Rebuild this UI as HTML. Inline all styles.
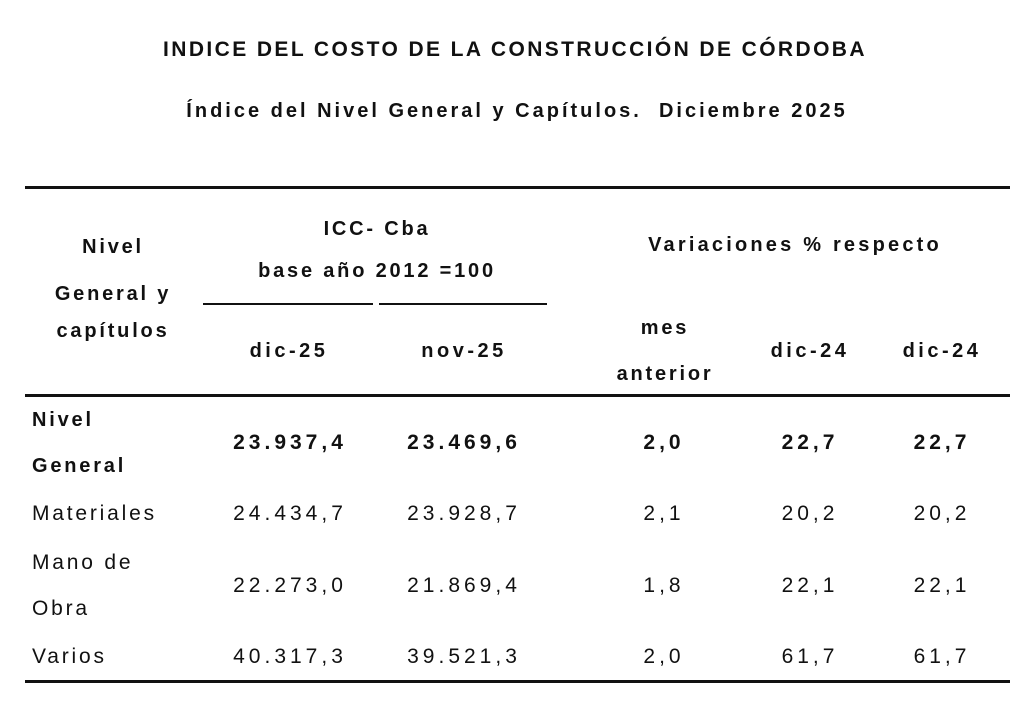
<!DOCTYPE html>
<html><head><meta charset="utf-8"><style>
body{margin:0;width:1025px;height:720px;background:#fff;font-family:"Liberation Sans",sans-serif;color:#111;position:relative;overflow:hidden;letter-spacing:2.8px}
.t{position:absolute;white-space:nowrap}
.c{transform:translateX(-50%);text-align:center}
.b{font-weight:bold}
.r{position:absolute;background:#111}
.v{font-size:21px;letter-spacing:4px}
.l{font-size:21px;letter-spacing:2.8px}
</style></head><body>
<div class="t c b" style="left:515px;top:38px;font-size:21px;letter-spacing:2.4px">INDICE DEL COSTO DE LA CONSTRUCCIÓN DE CÓRDOBA</div>
<div class="t c b" style="left:517px;top:100px;font-size:20px;letter-spacing:3px">Índice del Nivel General y Capítulos.&nbsp; Diciembre 2025</div>
<div class="r" style="left:25px;top:186px;width:985px;height:3px"></div>
<div class="t c b" style="left:113px;top:224px;font-size:20px;line-height:47px">Nivel<br>General y</div>
<div class="t c b" style="left:113px;top:320px;font-size:20px">capítulos</div>
<div class="t c b" style="left:377px;top:208px;font-size:20px;line-height:42px">ICC- Cba<br>base año 2012 =100</div>
<div class="r" style="left:203px;top:303px;width:170px;height:2px"></div>
<div class="r" style="left:379px;top:303px;width:168px;height:2px"></div>
<div class="t c b" style="left:795px;top:234px;font-size:20px;letter-spacing:3.2px">Variaciones % respecto</div>
<div class="t c b" style="left:289px;top:340px;font-size:20px;letter-spacing:3.5px">dic-25</div>
<div class="t c b" style="left:464px;top:340px;font-size:20px;letter-spacing:3.5px">nov-25</div>
<div class="t c b" style="left:665px;top:305px;font-size:20px;line-height:46px">mes<br>anterior</div>
<div class="t c b" style="left:810px;top:340px;font-size:20px;letter-spacing:3.5px">dic-24</div>
<div class="t c b" style="left:942px;top:340px;font-size:20px;letter-spacing:3.5px">dic-24</div>
<div class="r" style="left:25px;top:394px;width:985px;height:3px"></div>

<div class="t b" style="left:32px;top:397px;font-size:20px;line-height:46px">Nivel<br>General</div>
<div class="t c b v" style="left:290px;top:431px">23.937,4</div>
<div class="t c b v" style="left:464px;top:431px">23.469,6</div>
<div class="t c b v" style="left:664px;top:431px">2,0</div>
<div class="t c b v" style="left:810px;top:431px">22,7</div>
<div class="t c b v" style="left:942px;top:431px">22,7</div>

<div class="t l" style="left:32px;top:502px">Materiales</div>
<div class="t c v" style="left:290px;top:502px">24.434,7</div>
<div class="t c v" style="left:464px;top:502px">23.928,7</div>
<div class="t c v" style="left:664px;top:502px">2,1</div>
<div class="t c v" style="left:810px;top:502px">20,2</div>
<div class="t c v" style="left:942px;top:502px">20,2</div>

<div class="t l" style="left:32px;top:540px;line-height:46px">Mano de<br>Obra</div>
<div class="t c v" style="left:290px;top:574px">22.273,0</div>
<div class="t c v" style="left:464px;top:574px">21.869,4</div>
<div class="t c v" style="left:664px;top:574px">1,8</div>
<div class="t c v" style="left:810px;top:574px">22,1</div>
<div class="t c v" style="left:942px;top:574px">22,1</div>

<div class="t l" style="left:32px;top:645px">Varios</div>
<div class="t c v" style="left:290px;top:645px">40.317,3</div>
<div class="t c v" style="left:464px;top:645px">39.521,3</div>
<div class="t c v" style="left:664px;top:645px">2,0</div>
<div class="t c v" style="left:810px;top:645px">61,7</div>
<div class="t c v" style="left:942px;top:645px">61,7</div>
<div class="r" style="left:25px;top:680px;width:985px;height:3px"></div>
</body></html>
